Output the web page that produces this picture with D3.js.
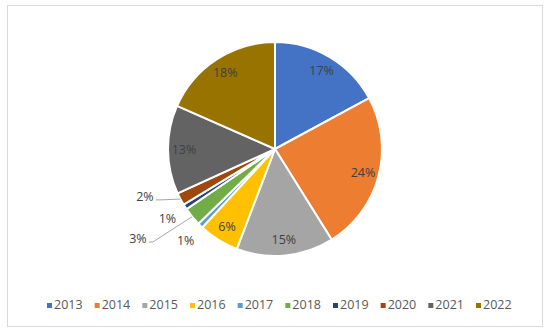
<!DOCTYPE html>
<html>
<head>
<meta charset="utf-8">
<script src="https://cdn.jsdelivr.net/npm/d3@7"></script>
<style>
  body { margin: 0; background: #fff; }
  svg { display: block; font-family: "Open Sans", sans-serif; }
</style>
</head>
<body>
<div id="chart"></div>
<script>
// chart data
var years = ["2013", "2014", "2015", "2016", "2017", "2018", "2019", "2020", "2021", "2022"];
var shares = [17.1, 24.0, 14.7, 6.1, 0.8, 2.8, 0.8, 1.9, 13.4, 18.4];
var colors = ["#4472C4", "#ED7D31", "#A5A5A5", "#FFC000", "#5B9BD5",
              "#70AD47", "#264478", "#9E480E", "#636363", "#997300"];

var svgWidth = 550;
var svgHeight = 334;

var svg = d3.select("#chart")
  .append("svg")
  .attr("width", svgWidth)
  .attr("height", svgHeight);

// chart frame
svg.append("rect")
  .attr("x", 7.5)
  .attr("y", 5.5)
  .attr("width", 535)
  .attr("height", 321)
  .attr("fill", "#fff")
  .attr("stroke", "#d9d9d9");

var cx = 275, cy = 149, radius = 107;

var pieGroup = svg.append("g")
  .attr("transform", `translate(${cx}, ${cy})`);

var data = years.map(function(y, i) {
  return { year: y, value: shares[i], color: colors[i] };
});

var pie = d3.pie().sort(null).value(d => d.value);
var arcs = pie(data);
var total = d3.sum(shares);

var arc = d3.arc().innerRadius(0).outerRadius(radius);

pieGroup.selectAll("path")
  .data(arcs)
  .enter()
  .append("path")
  .attr("d", arc)
  .attr("fill", d => d.data.color)
  .attr("stroke", "#fff")
  .attr("stroke-width", 2)
  .attr("stroke-linejoin", "round");

// label placement: inside for big slices, outside for the thin ones
var inArc = d3.arc().innerRadius(91).outerRadius(91);
var outArc = d3.arc().innerRadius(128).outerRadius(128);
// slices whose labels are pulled out with a leader line: [dx, dy] from outArc point
var pulled = { "2018": [-38, 9], "2020": [-17, -12] };

var fmt = d3.format(".0f");

function polar(r, a) {
  return [r * Math.sin(a), -r * Math.cos(a)];
}

arcs.forEach(function(d) {
  var small = d.data.value < 5;
  var mid = (d.startAngle + d.endAngle) / 2;
  var p = small ? outArc.centroid(d) : inArc.centroid(d);
  var shift = pulled[d.data.year];
  if (shift) {
    var lx = p[0] + shift[0], ly = p[1] + shift[1];
    var start = polar(radius, mid);
    pieGroup.append("polyline")
      .attr("points", [start, [lx + 15, ly + 3], [lx + 11, ly + 3]].map(q => q.join(",")).join(" "))
      .attr("fill", "none")
      .attr("stroke", "#a6a6a6")
      .attr("stroke-width", 1);
    p = [lx, ly];
  }
  pieGroup.append("text")
    .attr("x", p[0])
    .attr("y", p[1])
    .attr("dy", "0.35em")
    .attr("text-anchor", "middle")
    .attr("font-size", "12.5px")
    .attr("fill", "#404040")
    .text(fmt(d.data.value / total * 100) + "%");
});

// legend
var legendX = d3.scalePoint()
  .domain(years)
  .range([47, 476]);

var legend = svg.append("g")
  .selectAll("g")
  .data(data)
  .enter()
  .append("g")
  .attr("transform", d => `translate(${legendX(d.year)}, 305)`);

legend.append("rect")
  .attr("x", 0)
  .attr("y", -2)
  .attr("width", 5)
  .attr("height", 5)
  .attr("fill", d => d.color);

legend.append("text")
  .attr("x", 7)
  .attr("y", 0)
  .attr("dy", "0.35em")
  .attr("font-size", "12.5px")
  .attr("fill", "#595959")
  .text(d => d.year);
</script>
</body>
</html>
